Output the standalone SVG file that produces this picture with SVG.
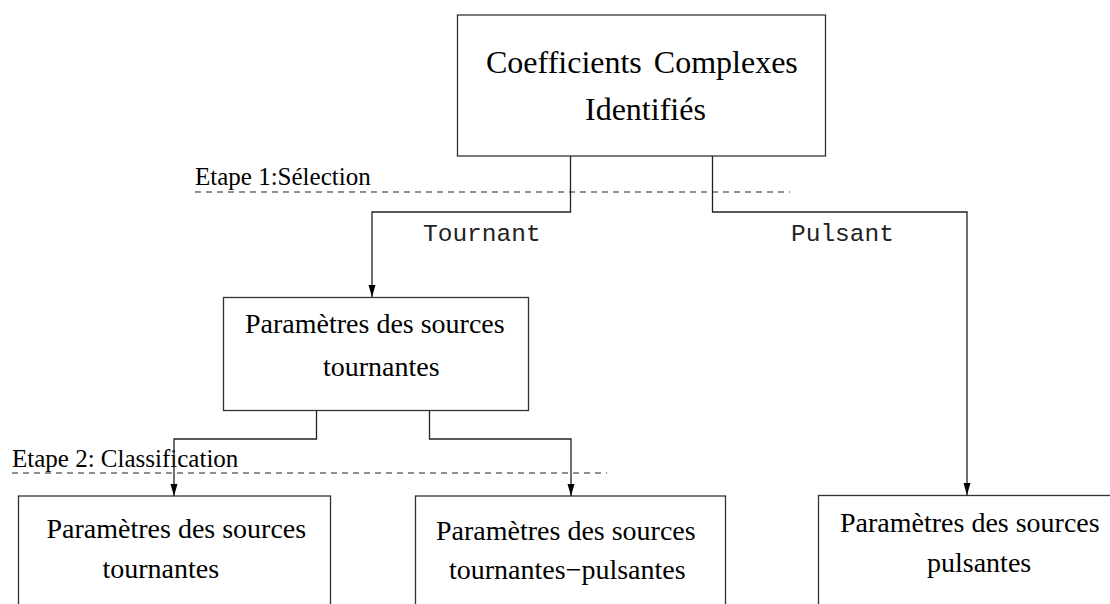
<svg xmlns="http://www.w3.org/2000/svg" width="1110" height="604" viewBox="0 0 1110 604">
<style>
.box{fill:#fff;stroke:#333;stroke-width:1.3}
.t{font-family:"Liberation Serif","Times New Roman",serif;fill:#000}
.big{font-size:32px}
.mid{font-size:28px}
.lab{font-size:25px}
.mono{font-family:"Liberation Mono","Courier New",monospace;font-size:24.5px;fill:#222}
.conn{fill:none;stroke:#222;stroke-width:1.3}
.dash{fill:none;stroke:#222;stroke-width:1.2;stroke-dasharray:6 5}
</style>
<defs>
<marker id="arr" markerUnits="userSpaceOnUse" markerWidth="12" markerHeight="8" refX="12" refY="3.5" orient="auto">
<path d="M0,0 L12,3.5 L0,7 z" fill="#000"/>
</marker>
</defs>
<rect width="1110" height="604" fill="#fff"/>
<g id="top">
<rect class="box" x="457.5" y="15" width="368" height="141"/>
<text class="t big" x="486" y="72.5" word-spacing="4">Coefficients Complexes</text>
<text class="t big" x="585" y="120">Identifiés</text>
</g>
<g id="etape1">
<text class="t lab" x="195" y="185">Etape 1:Sélection</text>
<line class="dash" x1="195" y1="192" x2="790" y2="192"/>
</g>
<g id="labels">
<text class="mono" x="423" y="241">Tournant</text>
<text class="mono" x="791" y="241">Pulsant</text>
</g>
<g id="midbox">
<rect class="box" x="223.5" y="297.5" width="305" height="113"/>
<text class="t mid" x="245" y="333">Paramètres des sources</text>
<text class="t mid" x="323" y="376">tournantes</text>
</g>
<g id="etape2">
<text class="t lab" x="12" y="467">Etape 2: Classification</text>
<line class="dash" x1="12" y1="473" x2="607" y2="473"/>
</g>
<g id="box-tournantes">
<rect class="box" x="18.5" y="496" width="312" height="120"/>
<text class="t mid" x="46.5" y="538">Paramètres des sources</text>
<text class="t mid" x="102.5" y="578">tournantes</text>
</g>
<g id="box-tournantes-pulsantes">
<rect class="box" x="415.5" y="496" width="310" height="120"/>
<text class="t mid" x="436" y="540">Paramètres des sources</text>
<text class="t mid" x="449" y="579">tournantes−pulsantes</text>
</g>
<g id="box-pulsantes">
<rect class="box" x="818.5" y="495.5" width="310" height="120"/>
<text class="t mid" x="840" y="532">Paramètres des sources</text>
<text class="t mid" x="927" y="572">pulsantes</text>
</g>
<g id="connectors">
<path class="conn" d="M570.5,156 V212 H372 V297" marker-end="url(#arr)"/>
<path class="conn" d="M712.5,156 V212 H967 V495" marker-end="url(#arr)"/>
<path class="conn" d="M316.5,411 V439 H174 V496" marker-end="url(#arr)"/>
<path class="conn" d="M429.5,411 V439 H571 V496" marker-end="url(#arr)"/>
</g>
</svg>
